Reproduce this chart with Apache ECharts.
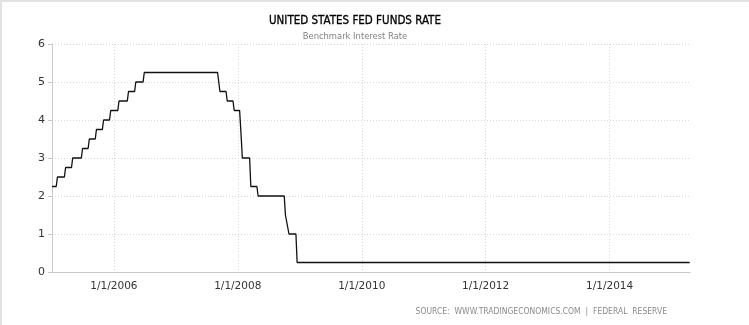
<!DOCTYPE html>
<html>
<head>
<meta charset="utf-8">
<script src="https://cdn.jsdelivr.net/npm/echarts@6/dist/echarts.min.js"></script>
<style>
html,body{margin:0;padding:0;background:#fff;}
#c{width:749px;height:325px;box-sizing:border-box;border-top:2px solid #e2e2e2;border-left:2px solid #e2e2e2;}
</style>
</head>
<body>
<div id="c"></div>
<script>
// Fed funds target rate vertices (date, percent)
const dates = [
  '2005-01-01','2005-01-26','2005-02-02','2005-03-15','2005-03-22','2005-04-26','2005-05-03',
  '2005-06-23','2005-06-30','2005-08-02','2005-08-09','2005-09-13','2005-09-20','2005-10-25',
  '2005-11-01','2005-12-06','2005-12-13','2006-01-24','2006-01-31','2006-03-21','2006-03-28',
  '2006-05-03','2006-05-10','2006-06-22','2006-06-29','2007-09-04','2007-09-18','2007-10-24',
  '2007-10-31','2007-12-04','2007-12-11','2008-01-12','2008-01-22','2008-01-28','2008-03-11',
  '2008-03-18','2008-04-23','2008-04-30','2008-10-01','2008-10-08','2008-10-29','2008-12-09',
  '2008-12-16','2015-04-18'
];
const rates = [
  2.25,2.25,2.50,2.50,2.75,2.75,3.00,
  3.00,3.25,3.25,3.50,3.50,3.75,3.75,
  4.00,4.00,4.25,4.25,4.50,4.50,4.75,
  4.75,5.00,5.00,5.25,5.25,4.75,4.75,
  4.50,4.50,4.25,4.25,3.50,3.00,3.00,
  2.25,2.25,2.00,2.00,1.50,1.00,1.00,
  0.25,0.25
];
const xTickDates = ['2006-01-01','2008-01-01','2010-01-01','2012-01-01','2014-01-01'];
const yTicks = [0,1,2,3,4,5,6];
const titleText = 'UNITED STATES FED FUNDS RATE';
const subtitleText = 'Benchmark Interest Rate';
const sourceText = 'SOURCE:  WWW.TRADINGECONOMICS.COM  |  FEDERAL  RESERVE';
const xMin = '2005-01-01', xMax = '2015-04-20';

function toUTC(s){const p=s.split('-').map(Number);return Date.UTC(p[0],p[1]-1,p[2]);}
const seriesData = dates.map((d,i)=>[toUTC(d), rates[i]]);
const xTicks = xTickDates.map(toUTC);

const chart = echarts.init(document.getElementById('c'), null, {renderer:'canvas'});
const FONT = '"Liberation Sans Narrow","DejaVu Sans Condensed","Liberation Sans",sans-serif';
chart.setOption({
  animation:false,
  backgroundColor:'#fff',
  title:[
    {text:titleText,left:353,top:13,textAlign:'center',padding:0,
     textStyle:{fontFamily:FONT,fontSize:11.5,fontWeight:'normal',color:'#000',
       textBorderColor:'#000',textBorderWidth:0.3}},
    {text:subtitleText,left:353,top:31,textAlign:'center',padding:0,
     textStyle:{fontFamily:'"DejaVu Sans",sans-serif',fontSize:8.4,fontWeight:'normal',color:'#808080'}},
    {text:sourceText,right:82,top:305,padding:0,
     textStyle:{fontFamily:'"DejaVu Sans Condensed","DejaVu Sans",sans-serif',fontSize:8.5,fontWeight:'normal',color:'#8a8a8a'}}
  ],
  grid:{left:50,right:59,top:42,bottom:53,containLabel:false},
  xAxis:{
    type:'value',
    min:toUTC(xMin), max:toUTC(xMax),
    axisLine:{show:true,lineStyle:{color:'#c8c8c8',width:1}},
    axisTick:{show:false,customValues:xTicks},
    axisLabel:{customValues:xTicks,color:'#333',fontFamily:'"DejaVu Sans",sans-serif',fontSize:10.5,margin:9,
      formatter:function(v){const d=new Date(v);return (d.getUTCMonth()+1)+'/'+d.getUTCDate()+'/'+d.getUTCFullYear();}},
    splitLine:{show:true,lineStyle:{color:'#d8d8d8',type:[1,2],width:1}}
  },
  yAxis:{
    type:'value',min:0,max:6,interval:1,
    axisLine:{show:true,lineStyle:{color:'#c8c8c8',width:1}},
    axisTick:{show:true,length:4,lineStyle:{color:'#c8c8c8'}},
    axisLabel:{color:'#333',fontFamily:'"DejaVu Sans",sans-serif',fontSize:11,margin:7},
    splitLine:{show:true,lineStyle:{color:'#d8d8d8',type:[1,2],width:1}}
  },
  series:[{
    type:'line',data:seriesData,showSymbol:false,symbol:'none',
    lineStyle:{color:'#111',width:1.3},
    silent:true
  }]
});
</script>
</body>
</html>
